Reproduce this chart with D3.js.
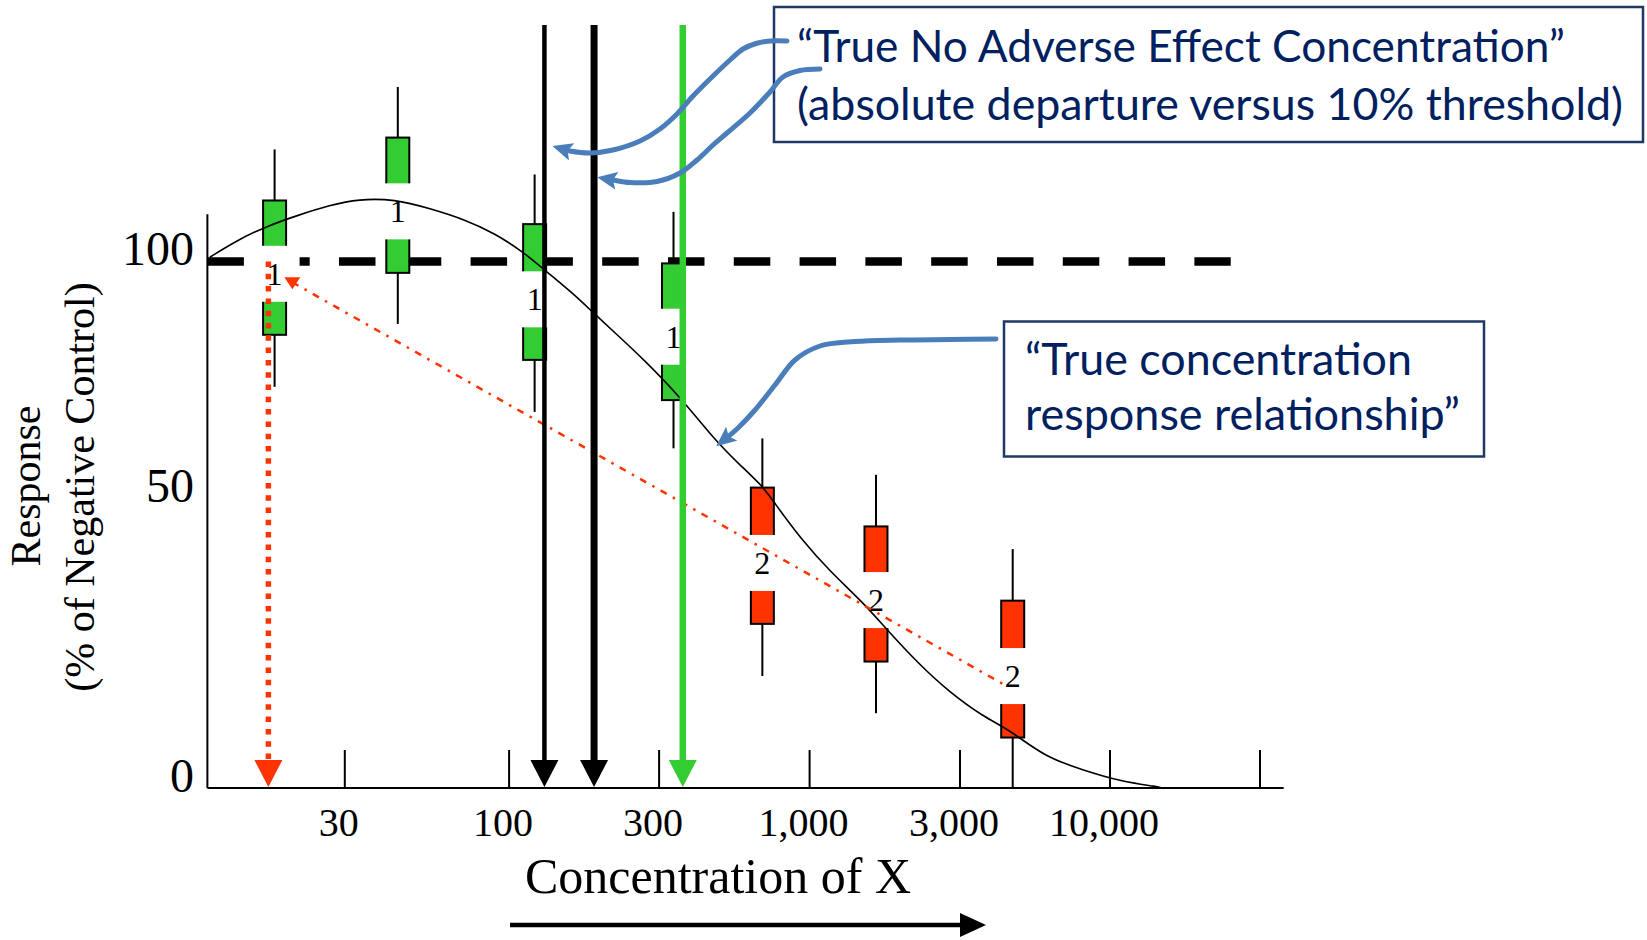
<!DOCTYPE html>
<html>
<head>
<meta charset="utf-8">
<script src="https://cdn.jsdelivr.net/npm/d3@7"></script>
<style>
  body { margin: 0; background: #fff; }
  svg { display: block; }
</style>
</head>
<body>
<div id="chart"></div>
<script>
const width = 1647;
const height = 940;

// axis ticks
const xTicks = [30, 100, 300, 1000, 3000, 10000, 30000];
const xTickLabels = ["30", "100", "300", "1,000", "3,000", "10,000", ""];
const yTicks = [0, 50, 100];

// replicate groups (concentration, whiskers, box, median where the label sits)
const groupConc = [18, 44.4, 121, 338, 688, 1630, 4598];
const groupHi = [123.7, 136.9, 118.4, 110.5, 62.6, 54.9, 41.2];
const groupQ3 = [112.9, 126.2, 107.9, 99.6, 52.2, 45.1, 32.3];
const groupMed = [97.4, 110.6, 92.0, 84.1, 38.8, 32.4, 19.3];
const groupQ1 = [84.5, 97.6, 79.2, 70.7, 28.3, 21.8, 8.7];
const groupLo = [73.5, 86.8, 68.2, 60.5, 19.3, 12.9, 0];
const groupLabel = ["1", "1", "1", "1", "2", "2", "2"];

// true concentration response curve
const curveConc = [11.2, 13.7, 16.9, 21.4, 27.0, 33.3, 43.3, 56.2, 73.0, 90.0, 111, 130, 160, 187, 219, 270,
    356, 473, 568, 692, 747, 940, 1182, 1458, 1773, 2217, 2775, 3628, 4499, 5932, 8066, 10880, 14390, 14600];
const curveResp = [100.9, 104.5, 107.4, 109.8, 111.9, 113.2, 113.2, 111.2, 108.8, 106.0, 102.1, 98.2, 93.3, 89.0, 84.8, 79.2,
    71.4, 62.1, 57.3, 52.4, 49.6, 42.8, 37.0, 32.4, 27.2, 21.5, 16.6, 12.3, 10.0, 5.4, 3.1, 1.1, 0.2, 0];

// reference lines
const controlLevel = 100;
const controlEnd = 24300;
const fitConc = [20.5, 4230];
const fitResp = [95.6, 18.0];
const loelConc = 17.2;
const noaecConc = [130, 187];
const trueNoaecConc = 364;
const arrowTop = 150;

const xAxisMin = 11;
const xAxisMax = 35800;
const yAxisMax = 110;

const serif = '"Liberation Serif", "Times New Roman", serif';
const sans = 'Lato, "Open Sans", sans-serif';
const green = "#33cc33";
const red = "#ff3300";
const blue = "#4a7ebb";
const navy = "#002060";

const svg = d3.select("#chart")
    .append("svg")
    .attr("width", width)
    .attr("height", height)
    .attr("viewBox", [0, 0, width, height]);

svg.append("rect").attr("width", width).attr("height", height).attr("fill", "#fff");

const x = d3.scaleLog()
    .domain(xTicks)
    .range([344.3, 508.6, 658.6, 809.1, 959.5, 1109.5, 1259.5]);

const y = d3.scaleLinear()
    .domain(yTicks)
    .range([788, 498, 261.5]);

const color = d3.scaleOrdinal().domain(["1", "2"]).range([green, red]);

// 100% control level
svg.append("line")
    .attr("x1", x(xAxisMin))
    .attr("x2", x(controlEnd))
    .attr("y1", y(controlLevel))
    .attr("y2", y(controlLevel))
    .attr("stroke", "#000")
    .attr("stroke-width", 8.5)
    .attr("stroke-dasharray", "36.5,29.3");

// box groups
const groups = groupConc.map((c, i) => ({
    conc: c, hi: groupHi[i], q3: groupQ3[i], med: groupMed[i],
    q1: groupQ1[i], lo: groupLo[i], label: groupLabel[i]
}));

const boxW = 23;
const gapW = 50;
const gapH = 56;

const grp = svg.append("g")
    .selectAll("g")
    .data(groups)
    .join("g");

grp.append("line")
    .attr("x1", d => x(d.conc))
    .attr("x2", d => x(d.conc))
    .attr("y1", d => y(d.hi))
    .attr("y2", d => y(d.lo))
    .attr("stroke", "#000")
    .attr("stroke-width", 2);

grp.append("rect")
    .attr("x", d => x(d.conc) - boxW / 2)
    .attr("y", d => y(d.q3))
    .attr("width", boxW)
    .attr("height", d => y(d.q1) - y(d.q3))
    .attr("fill", d => color(d.label))
    .attr("stroke", "#000")
    .attr("stroke-width", 2);

grp.append("rect")
    .attr("x", d => x(d.conc) - gapW / 2)
    .attr("y", d => y(d.med) - gapH / 2)
    .attr("width", gapW)
    .attr("height", gapH)
    .attr("fill", "#fff");

grp.append("text")
    .attr("x", d => x(d.conc))
    .attr("y", d => y(d.med))
    .attr("dy", "0.34em")
    .attr("text-anchor", "middle")
    .attr("font-family", serif)
    .attr("font-size", 32)
    .text(d => d.label);

// true curve
const curvePts = curveConc.map((c, i) => [x(c), y(curveResp[i])]);
svg.append("path")
    .attr("d", d3.line().curve(d3.curveBasis)(curvePts))
    .attr("fill", "none")
    .attr("stroke", "#000")
    .attr("stroke-width", 1.6);

// fitted straight line between labels
const fx0 = x(fitConc[0]), fy0 = y(fitResp[0]);
svg.append("line")
    .attr("x1", fx0)
    .attr("y1", fy0)
    .attr("x2", x(fitConc[1]))
    .attr("y2", y(fitResp[1]))
    .attr("stroke", red)
    .attr("stroke-width", 2.5)
    .attr("stroke-dasharray", "7,7,2.5,7");
svg.append("path")
    .attr("d", `M${fx0 - 8},${fy0 - 5}L${fx0 + 8},${fy0 - 5}L${fx0},${fy0 + 7}Z`)
    .attr("fill", red);

// vertical arrows down to the axis
function vArrow(conc, top, stroke, w, dash) {
    const cx = x(conc);
    const tip = y(0) - 1;
    svg.append("line")
        .attr("x1", cx)
        .attr("x2", cx)
        .attr("y1", y(top))
        .attr("y2", tip - 26)
        .attr("stroke", stroke)
        .attr("stroke-width", w)
        .attr("stroke-dasharray", dash);
    svg.append("path")
        .attr("d", `M${cx - 14},${tip - 27}L${cx + 14},${tip - 27}L${cx},${tip}Z`)
        .attr("fill", stroke);
}

vArrow(loelConc, controlLevel, red, 5.5, "5.5,6.8");
vArrow(noaecConc[0], arrowTop, "#000", 4.5, null);
vArrow(noaecConc[1], arrowTop, "#000", 7, null);
vArrow(trueNoaecConc, arrowTop, green, 6.5, null);

// axes
svg.append("line")
    .attr("x1", x(xAxisMin))
    .attr("x2", x(xAxisMax))
    .attr("y1", y(0))
    .attr("y2", y(0))
    .attr("stroke", "#000")
    .attr("stroke-width", 2.2);

svg.append("line")
    .attr("x1", x(xAxisMin))
    .attr("x2", x(xAxisMin))
    .attr("y1", y(0))
    .attr("y2", y(yAxisMax))
    .attr("stroke", "#000")
    .attr("stroke-width", 2);

const xAxis = svg.append("g")
    .attr("transform", `translate(0,${y(0)})`)
    .call(d3.axisBottom(x)
        .tickValues(xTicks)
        .tickFormat(d => xTickLabels[xTicks.indexOf(d)])
        .tickSizeInner(-38)
        .tickSizeOuter(0)
        .tickPadding(19.6));
xAxis.select(".domain").remove();
xAxis.selectAll(".tick line").attr("stroke-width", 2);
xAxis.selectAll("text")
    .attr("x", -6)
    .attr("font-family", serif)
    .attr("font-size", 40)
    .attr("fill", "#000");

const yAxis = svg.append("g")
    .attr("transform", `translate(${x(xAxisMin)},0)`)
    .call(d3.axisLeft(y).tickValues(yTicks).tickSize(0).tickPadding(13.5));
yAxis.select(".domain").remove();
yAxis.selectAll("text")
    .attr("y", -12)
    .attr("font-family", serif)
    .attr("font-size", 48)
    .attr("fill", "#000");

svg.append("text")
    .attr("transform", "translate(40,486) rotate(-90)")
    .attr("text-anchor", "middle")
    .attr("font-family", serif)
    .attr("font-size", 42)
    .text("Response");

svg.append("text")
    .attr("transform", "translate(94,487) rotate(-90)")
    .attr("text-anchor", "middle")
    .attr("font-family", serif)
    .attr("font-size", 42)
    .text("(% of Negative Control)");

svg.append("text")
    .attr("x", 718)
    .attr("y", 893)
    .attr("text-anchor", "middle")
    .attr("font-family", serif)
    .attr("font-size", 50)
    .text("Concentration of X");

svg.append("line")
    .attr("x1", 510)
    .attr("x2", 962)
    .attr("y1", 925)
    .attr("y2", 925)
    .attr("stroke", "#000")
    .attr("stroke-width", 4.5);
svg.append("path")
    .attr("d", "M960,913L986,925L960,937Z")
    .attr("fill", "#000");

// callout boxes
function callout(bx, by, bw, bh, lines) {
    svg.append("rect")
        .attr("x", bx)
        .attr("y", by)
        .attr("width", bw)
        .attr("height", bh)
        .attr("fill", "#fff")
        .attr("stroke", "#1f3864")
        .attr("stroke-width", 2.5);
    lines.forEach(l => {
        svg.append("text")
            .attr("x", l.x)
            .attr("y", l.y)
            .attr("font-family", sans)
            .attr("font-size", 45)
            .attr("fill", navy)
            .attr("textLength", l.w)
            .attr("lengthAdjust", "spacingAndGlyphs")
            .text(l.text);
    });
}

callout(774, 7, 869, 135, [
    { text: "\u201CTrue No Adverse Effect Concentration\u201D", x: 797, y: 62, w: 768 },
    { text: "(absolute departure versus 10% threshold)", x: 797, y: 120, w: 826 }
]);
callout(1004, 321.5, 480, 135, [
    { text: "\u201CTrue concentration", x: 1025, y: 375, w: 387 },
    { text: "response relationship\u201D", x: 1025, y: 430, w: 435 }
]);

// blue callout arrows
svg.append("defs")
    .append("marker")
    .attr("id", "bluehead")
    .attr("markerUnits", "userSpaceOnUse")
    .attr("viewBox", "0 0 20 18")
    .attr("refX", 10)
    .attr("refY", 9)
    .attr("markerWidth", 20)
    .attr("markerHeight", 18)
    .attr("orient", "auto")
    .append("path")
    .attr("d", "M0,0L20,9L0,18L4,9Z")
    .attr("fill", blue);

const calloutPaths = [
    [[787, 41], [770, 41], [756, 43.5], [743, 49], [730, 60], [712, 77], [693, 96], [677, 114], [660, 129],
        [640, 141], [613, 150], [590, 153], [570, 151], [562, 149]],
    [[820, 69], [800, 70.5], [783, 77], [770, 92], [750, 113], [727, 133], [713, 145], [697, 160], [680, 173],
        [657, 181.5], [630, 182.5], [613, 180], [607, 179]],
    [[996, 339], [950, 339.5], [900, 340], [855, 341.5], [820, 346], [795, 360], [775, 385], [755, 410],
        [738, 428], [724, 440]]
];

const blueLine = d3.line().curve(d3.curveCatmullRom);
svg.append("g")
    .selectAll("path")
    .data(calloutPaths)
    .join("path")
    .attr("d", d => blueLine(d))
    .attr("fill", "none")
    .attr("stroke", blue)
    .attr("stroke-width", 5)
    .attr("stroke-linecap", "round")
    .attr("marker-end", "url(#bluehead)");
</script>
</body>
</html>
